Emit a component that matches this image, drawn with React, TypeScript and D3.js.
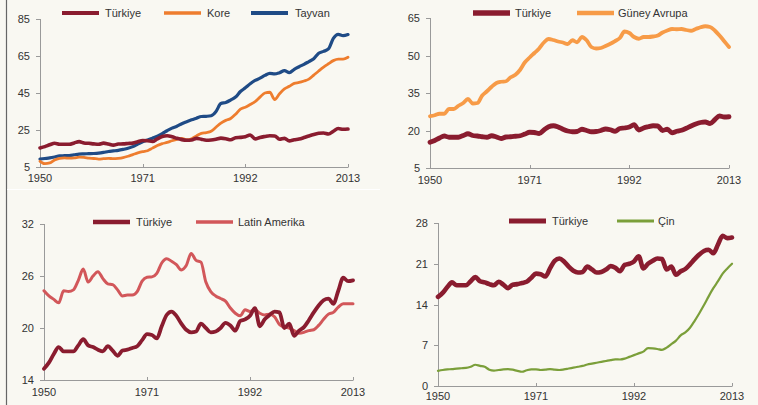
import React from "react";
import * as d3 from "d3";

const years: number[] = d3.range(1950, 2014);
const xTickYears = [1950, 1971, 1992, 2013];

const turkiye = [15.3, 16.0, 17.0, 17.8, 17.3, 17.3, 17.3, 18.0, 18.7, 18.0, 17.8, 17.5, 17.3, 17.9, 17.4, 16.8, 17.4, 17.5, 17.7, 17.9, 18.6, 19.3, 19.2, 18.8, 20.2, 21.5, 21.9, 21.4, 20.5, 19.8, 19.5, 19.6, 20.5, 20.0, 19.5, 19.6, 20.0, 20.6, 20.3, 19.7, 20.8, 21.0, 21.4, 22.3, 20.2, 21.0, 21.5, 21.9, 21.8, 20.0, 20.5, 19.1, 19.7, 20.1, 20.9, 21.8, 22.6, 23.2, 23.4, 22.8, 24.3, 25.8, 25.4, 25.5];
const kore = [8.1, 6.8, 7.2, 8.8, 9.6, 9.9, 9.8, 9.9, 10.3, 10.2, 9.8, 9.6, 9.3, 9.5, 9.7, 9.5, 9.7, 10.1, 10.8, 11.7, 12.6, 13.3, 13.8, 15.2, 16.6, 17.6, 18.3, 19.2, 19.9, 20.5, 19.8, 20.3, 21.8, 23.2, 23.6, 24.3, 26.5, 28.7, 30.2, 31.2, 33.5, 36.3, 37.3, 38.8, 40.4, 42.8, 45.0, 45.4, 41.5, 44.6, 47.2, 48.6, 50.2, 50.7, 51.5, 52.5, 54.7, 56.9, 59.0, 60.8, 62.5, 63.3, 63.3, 64.3];
const tayvan = [9.3, 9.6, 9.9, 10.4, 11.0, 11.1, 11.2, 11.6, 12.0, 12.1, 12.2, 12.3, 12.5, 12.9, 13.4, 13.7, 14.0, 14.5, 15.1, 16.0, 17.4, 18.7, 19.6, 20.6, 21.6, 23.0, 24.6, 26.0, 27.0, 28.4, 29.5, 30.5, 31.4, 32.3, 32.4, 32.7, 35.0, 39.3, 39.9, 41.2, 42.8, 45.8, 47.8, 50.0, 51.8, 53.0, 54.5, 55.6, 55.3, 56.0, 57.1, 56.0, 57.8, 59.2, 60.5, 62.0, 63.5, 66.5, 67.5, 68.8, 74.5, 76.7, 76.0, 76.6];
const guneyAvrupa = [25.7, 26.1, 26.7, 26.7, 28.6, 28.6, 29.9, 31.0, 32.6, 30.8, 31.0, 34.0, 35.7, 37.5, 39.0, 39.5, 39.7, 41.3, 42.3, 44.3, 47.3, 49.2, 51.0, 52.8, 55.2, 56.6, 56.2, 55.6, 55.2, 54.6, 56.1, 55.3, 57.4, 56.1, 53.4, 52.8, 53.0, 53.8, 54.7, 55.8, 57.0, 59.6, 59.0, 57.4, 56.7, 57.4, 57.4, 57.6, 58.0, 59.2, 60.0, 60.6, 60.5, 60.6, 60.2, 59.9, 60.6, 61.3, 61.7, 61.4, 60.0, 58.0, 55.7, 53.4];
const latinAmerika = [24.3, 23.7, 23.3, 22.9, 24.3, 24.2, 24.4, 25.5, 26.8, 25.3, 26.0, 26.5, 25.7, 25.1, 25.0, 24.4, 23.7, 23.8, 23.8, 24.2, 25.4, 25.85, 25.9, 26.3, 27.5, 28.0, 27.7, 27.3, 26.7, 27.2, 28.6, 27.8, 27.6, 25.3, 24.2, 23.7, 23.4, 23.1, 22.3, 21.7, 21.4, 22.1, 21.9, 22.1, 21.7, 21.5, 21.6, 21.3, 20.4, 20.1, 20.0, 19.7, 19.4, 19.5, 19.7, 19.8, 20.3, 21.0, 21.6, 21.8, 22.4, 22.8, 22.8, 22.8];
const cin = [2.6, 2.75, 2.85, 2.9, 3.0, 3.05, 3.1, 3.3, 3.65, 3.45, 3.3, 2.8, 2.65, 2.75, 2.85, 2.9, 2.8, 2.6, 2.45, 2.7, 2.86, 2.85, 2.75, 2.8, 2.9, 2.8, 2.75, 2.85, 3.0, 3.15, 3.3, 3.45, 3.7, 3.85, 4.0, 4.15, 4.3, 4.45, 4.57, 4.55, 4.7, 5.0, 5.3, 5.6, 5.9, 6.5, 6.45, 6.35, 6.2, 6.6, 7.2, 7.8, 8.7, 9.2, 10.0, 11.2, 12.5, 13.9, 15.4, 16.8, 18.0, 19.3, 20.2, 21.0];

const ticks1 = [5, 25, 45, 65, 85];
const ticks2 = [5, 20, 35, 50, 65];
const ticks3 = [14, 20, 26, 32];
const ticks4 = [0, 7, 14, 21, 28];

const C_TR = "#8a1c2f";
const C_KORE = "#ee7d2e";
const C_TAYVAN = "#1f4b86";
const C_GA = "#f79b47";
const C_LA = "#d2575a";
const C_CIN = "#7b9f3a";
const FONT = "'Liberation Sans', Arial, sans-serif";

type Series = { name: string; values: number[]; color: string; width: number; legendX: number; textX: number };
type PanelCfg = {
  x0: number; x1: number; yTop: number; yBot: number; ticks: number[];
  labelBase: number; legendY: number; series: Series[];
};

const panels: PanelCfg[] = [
  {
    x0: 40, x1: 348, yTop: 19, yBot: 167, ticks: ticks1, labelBase: 182, legendY: 13,
    series: [
      { name: "Türkiye", values: turkiye, color: C_TR, width: 3.6, legendX: 62, textX: 105 },
      { name: "Kore", values: kore, color: C_KORE, width: 2.8, legendX: 164, textX: 207 },
      { name: "Tayvan", values: tayvan, color: C_TAYVAN, width: 3.2, legendX: 251, textX: 295 },
    ],
  },
  {
    x0: 430, x1: 729, yTop: 18, yBot: 168, ticks: ticks2, labelBase: 184, legendY: 13,
    series: [
      { name: "Türkiye", values: turkiye, color: C_TR, width: 4.8, legendX: 473, textX: 515 },
      { name: "Güney Avrupa", values: guneyAvrupa, color: C_GA, width: 3.8, legendX: 577, textX: 618 },
    ],
  },
  {
    x0: 44, x1: 353, yTop: 224, yBot: 380, ticks: ticks3, labelBase: 396, legendY: 222,
    series: [
      { name: "Türkiye", values: turkiye, color: C_TR, width: 3.8, legendX: 93, textX: 136 },
      { name: "Latin Amerika", values: latinAmerika, color: C_LA, width: 3.0, legendX: 196, textX: 238 },
    ],
  },
  {
    x0: 438, x1: 732, yTop: 223, yBot: 386, ticks: ticks4, labelBase: 400, legendY: 221,
    series: [
      { name: "Türkiye", values: turkiye, color: C_TR, width: 4.6, legendX: 509, textX: 552 },
      { name: "Çin", values: cin, color: C_CIN, width: 2.2, legendX: 617, textX: 658 },
    ],
  },
];

function Panel({ cfg }: { cfg: PanelCfg }) {
  const x = d3.scaleLinear().domain([1950, 2013]).range([cfg.x0, cfg.x1]);
  const y = d3
    .scaleLinear()
    .domain([cfg.ticks[0], cfg.ticks[cfg.ticks.length - 1]])
    .range([cfg.yBot, cfg.yTop]);
  const axisColor = "#9a9a9a";
  return (
    <g>
      {/* y axis */}
      <line x1={cfg.x0 + 0.5} x2={cfg.x0 + 0.5} y1={cfg.yTop} y2={cfg.yBot} stroke={axisColor} strokeWidth={1} />
      {cfg.ticks.map((t) => (
        <g key={"y" + t}>
          <line x1={cfg.x0 - 4} x2={cfg.x0 + 0.5} y1={Math.round(y(t)) + 0.5} y2={Math.round(y(t)) + 0.5} stroke={axisColor} />
          <text x={cfg.x0 - 10} y={y(t) + 4} textAnchor="end" fontSize={11} fill="#333" fontFamily={FONT}>
            {t}
          </text>
        </g>
      ))}
      {/* x axis */}
      <line x1={cfg.x0} x2={cfg.x1} y1={cfg.yBot + 0.5} y2={cfg.yBot + 0.5} stroke={axisColor} strokeWidth={1} />
      {xTickYears.map((t) => (
        <g key={"x" + t}>
          <line x1={Math.round(x(t)) + 0.5} x2={Math.round(x(t)) + 0.5} y1={cfg.yBot - 3} y2={cfg.yBot + 0.5} stroke={axisColor} />
          <text x={x(t)} y={cfg.labelBase} textAnchor="middle" fontSize={11} fill="#333" fontFamily={FONT}>
            {t}
          </text>
        </g>
      ))}
      {/* series */}
      {cfg.series
        .slice()
        .reverse()
        .map((s) => {
          const line = d3
            .line<number>()
            .x((_, i) => x(years[i]))
            .y((v) => y(v))
            .curve(d3.curveMonotoneX);
          return (
            <path key={s.name} d={line(s.values) || ""} fill="none" stroke={s.color} strokeWidth={s.width} strokeLinejoin="round" strokeLinecap="round" />
          );
        })}
      {/* legend */}
      {cfg.series.map((s) => (
        <g key={"l" + s.name}>
          <line x1={s.legendX} x2={s.legendX + 37} y1={cfg.legendY} y2={cfg.legendY} stroke={s.color} strokeWidth={s.width + 0.6} />
          <text x={s.textX} y={cfg.legendY + 4} fontSize={11} fill="#333" fontFamily={FONT}>
            {s.name}
          </text>
        </g>
      ))}
    </g>
  );
}

export default function App() {
  return (
    <svg width={758} height={405} style={{ position: "absolute", left: 0, top: 0, display: "block" }}>
      <rect x={0} y={0} width={758} height={405} fill="#f9f8f2" />
      <line x1={6.5} x2={6.5} y1={0} y2={405} stroke="#666" strokeWidth={1.2} />
      <line x1={7} x2={380} y1={189.5} y2={189.5} stroke="#ffffff" strokeWidth={1.2} />
      {panels.map((p, i) => (
        <Panel key={i} cfg={p} />
      ))}
    </svg>
  );
}
